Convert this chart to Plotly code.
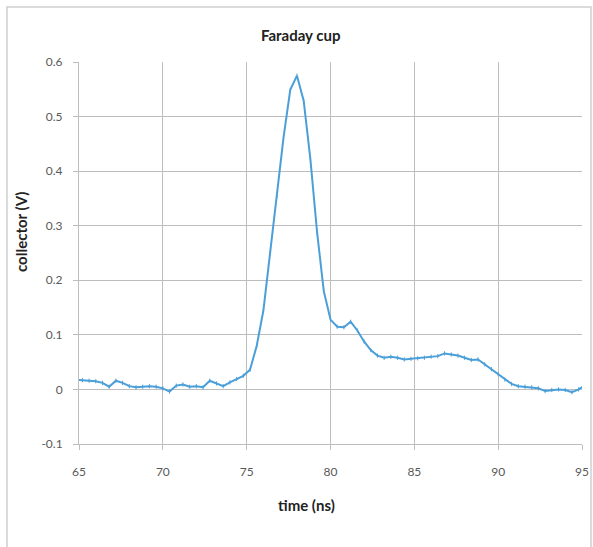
import plotly.graph_objects as go

time_ns = [round(64.8 + 0.4 * k, 1) for k in range(77)]
collector_v = [
    0.018, 0.017, 0.016, 0.015, 0.012, 0.005, 0.016, 0.012, 0.006, 0.004,
    0.005, 0.006, 0.005, 0.002, -0.004, 0.007, 0.009, 0.005, 0.006, 0.004,
    0.016, 0.011, 0.006, 0.013, 0.019, 0.025, 0.036, 0.080, 0.145, 0.250,
    0.354, 0.462, 0.549, 0.575, 0.529, 0.422, 0.288, 0.180, 0.128, 0.115,
    0.114, 0.124, 0.108, 0.088, 0.072, 0.062, 0.058, 0.060, 0.058, 0.055,
    0.056, 0.057, 0.058, 0.060, 0.061, 0.066, 0.064, 0.062, 0.058, 0.054,
    0.055, 0.046, 0.037, 0.028, 0.018, 0.010, 0.006, 0.005, 0.004, 0.002,
    -0.003, -0.001, 0.000, -0.001, -0.005, 0.000, 0.008,
]
x_ticks = [65, 70, 75, 80, 85, 90, 95]
y_ticks = [-0.1, 0, 0.1, 0.2, 0.3, 0.4, 0.5, 0.6]
y_tick_labels = ["-0.1", "0", "0.1", "0.2", "0.3", "0.4", "0.5", "0.6"]

FONT = "Lato, Open Sans, sans-serif"
GRID = "#bdbdbd"
W, H = 593, 547
L, R, T, B = 79, 11, 62, 103
PW, PH = W - L - R, H - T - B


def px_x(p):
    return (p - L) / PW


def px_y(p):
    return (H - B - p) / PH


fig = go.Figure()
fig.add_trace(go.Scatter(
    x=time_ns, y=collector_v, mode="lines+markers",
    line=dict(color="#4b9fd9", width=2),
    marker=dict(symbol="line-ns", size=3, line=dict(color="#4b9fd9", width=1)),
    showlegend=False,
))

title_font = dict(family=FONT, size=15, color="#222222", weight="bold")
fig.update_layout(
    width=W, height=H,
    margin=dict(l=L, r=R, t=T, b=B),
    paper_bgcolor="white", plot_bgcolor="white",
    font=dict(family=FONT, color="#595959", size=12),
    xaxis=dict(
        range=[65, 95], tickvals=x_ticks, ticktext=[str(v) for v in x_ticks],
        showgrid=True, gridcolor=GRID, gridwidth=1,
        showline=True, linecolor=GRID, linewidth=1,
        ticks="outside", ticklen=5, tickcolor=GRID,
        ticklabelstandoff=12, zeroline=False, automargin=False,
    ),
    yaxis=dict(
        range=[-0.1, 0.6], tickvals=y_ticks, ticktext=y_tick_labels,
        showgrid=True, gridcolor=GRID, gridwidth=1,
        showline=True, linecolor=GRID, linewidth=1,
        ticks="outside", ticklen=5, tickcolor=GRID,
        ticklabelstandoff=8, zeroline=False, automargin=False,
    ),
    annotations=[
        dict(text="Faraday cup", xref="paper", yref="paper", x=px_x(301), y=px_y(35),
             xanchor="center", yanchor="middle", showarrow=False, font=title_font),
        dict(text="time (ns)", xref="paper", yref="paper", x=px_x(306), y=px_y(505),
             xanchor="center", yanchor="middle", showarrow=False, font=title_font),
        dict(text="collector (V)", xref="paper", yref="paper", x=px_x(21), y=px_y(232),
             xanchor="center", yanchor="middle", showarrow=False, textangle=-90,
             font=title_font),
    ],
    shapes=[dict(type="rect", xref="paper", yref="paper",
                 x0=px_x(7), x1=px_x(591),
                 y0=px_y(600), y1=px_y(7),
                 line=dict(color="#d0d0d0", width=1.5), layer="below")],
)

fig.write_html("out.html")
